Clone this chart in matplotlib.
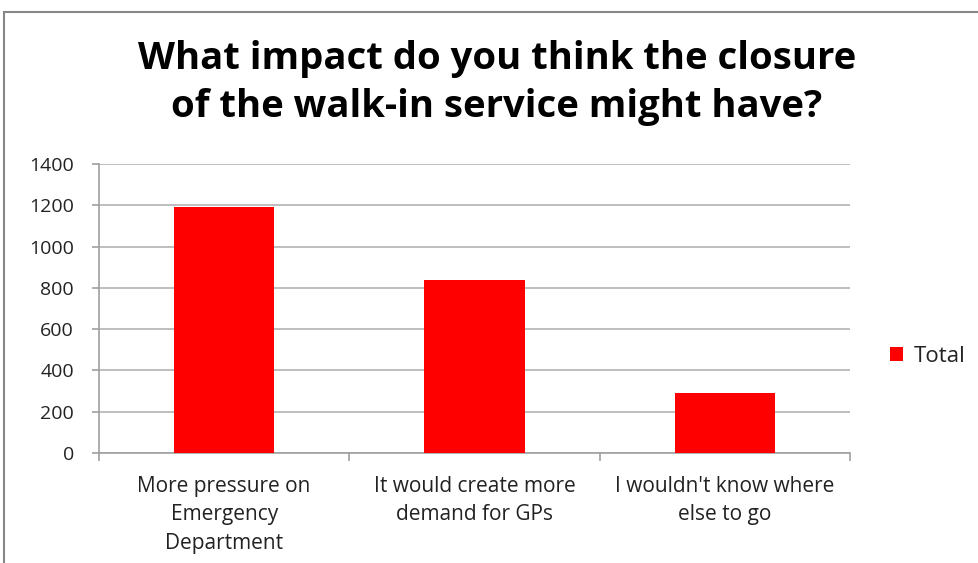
import matplotlib
matplotlib.use("Agg")
import matplotlib.pyplot as plt
from matplotlib.patches import Rectangle
import numpy as np

categories = ["More pressure on\nEmergency\nDepartment",
              "It would create more\ndemand for GPs",
              "I wouldn't know where\nelse to go"]
values = [1194, 838, 289]
series_name = "Total"
yticks = [0, 200, 400, 600, 800, 1000, 1200, 1400]
title = "What impact do you think the closure\nof the walk-in service might have?"

W, H = 979, 563
fig = plt.figure(figsize=(W / 100, H / 100), dpi=100)
plt.rcParams['font.family'] = ['Open Sans', 'DejaVu Sans']

# chart border
fig.patches.append(Rectangle((4 / W, -0.05), 1.1, 1 - 12 / H + 0.05,
                             transform=fig.transFigure, fill=False,
                             edgecolor="#878787", linewidth=1.5))

ax = fig.add_axes([99 / W, 1 - 453 / H, (850 - 99) / W, (453 - 164) / H])
x = np.arange(len(categories))
ax.bar(x, values, width=0.4, color="#ff0000", label=series_name, zorder=3)
ax.set_xlim(-0.5, len(categories) - 0.5)
ax.set_ylim(0, 1400)
ax.set_yticks(yticks)
ax.set_yticklabels([str(v) for v in yticks], fontsize=14, color="#222222")
ax.yaxis.grid(True, color="#b3b3b3", linewidth=1.2, zorder=0)
ax.set_xticks(np.arange(len(categories) + 1) - 0.5)
ax.set_xticklabels([])
ax.tick_params(axis="x", length=6, color="#a0a0a0", width=1.2)
ax.tick_params(axis="y", length=5, color="#a0a0a0", width=1.2, pad=13)
for i, c in enumerate(categories):
    ax.text(i, -0.078, c, transform=ax.get_xaxis_transform(), ha="center",
            va="top", fontsize=15, color="#222222", linespacing=1.47)
for s in ["top", "right"]:
    ax.spines[s].set_visible(False)
for s in ["left", "bottom"]:
    ax.spines[s].set_color("#a0a0a0")
    ax.spines[s].set_linewidth(1.2)

fig.text(497 / W, 1 - 83 / H, title, ha="center", va="center", fontsize=27.5,
         fontweight="bold", color="#000000", linespacing=1.36)

leg = ax.legend(loc="center left", bbox_to_anchor=(1.053, 0.335), frameon=False,
                fontsize=16, handlelength=0.6, handleheight=0.6, handletextpad=0.5,
                borderpad=0, borderaxespad=0)
for t in leg.get_texts():
    t.set_color("#222222")

fig.savefig("out.png", dpi=100)
